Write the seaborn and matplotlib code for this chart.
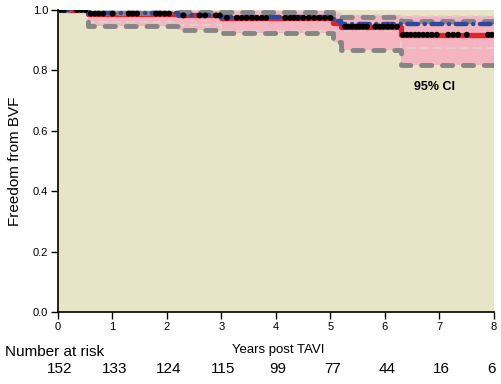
import numpy as np
import matplotlib
matplotlib.use("Agg")
import matplotlib.pyplot as plt
import seaborn as sns

# step times (years) and survival estimates
times = [0.0, 0.55, 2.2, 3.0, 5.05, 5.2, 6.3, 8.0]
km_est = [1.0, 0.988, 0.982, 0.974, 0.958, 0.945, 0.918, 0.918]
ci_upper = [1.0, 0.990, 0.995, 0.994, 0.985, 0.978, 0.965, 0.965]
ci_lower = [1.0, 0.947, 0.934, 0.924, 0.895, 0.868, 0.818, 0.818]
alt_est = [1.0, 0.990, 0.985, 0.977, 0.962, 0.953, 0.953, 0.953]
alt_upper = [1.0, 0.998, 0.998, 0.996, 0.990, 0.985, 0.981, 0.981]
alt_lower = [1.0, 0.960, 0.950, 0.930, 0.930, 0.930, 0.875, 0.875]

# censoring marks (years)
censored = [0.04, 0.11, 0.35, 0.42, 0.5, 0.6, 0.68, 0.75, 0.83, 1.0, 1.3, 1.37, 1.45,
            1.8, 1.87, 1.96, 2.04, 2.3, 2.6, 2.7, 2.9, 2.97, 3.1, 3.28, 3.37, 3.46,
            3.56, 3.65, 3.74, 3.82, 4.17, 4.26, 4.33, 4.4, 4.5, 4.6, 4.7, 4.8, 4.9,
            5.0, 5.27, 5.33, 5.4, 5.47, 5.53, 5.6, 5.67, 5.82, 5.9, 5.97, 6.05,
            6.13, 6.22, 6.33, 6.4, 6.47, 6.55, 6.62, 6.7, 6.78, 6.86, 6.95, 7.16,
            7.25, 7.34, 7.5, 7.89, 7.96]

risk_years = [0, 1, 2, 3, 4, 5, 6, 7, 8]
at_risk = [152, 133, 124, 115, 99, 77, 44, 16, 6]

sns.set_style("ticks")
plt.rcParams['font.family'] = ['Liberation Sans', 'DejaVu Sans']
plt.rcParams['text.color'] = 'black'
plt.rcParams['axes.labelcolor'] = 'black'
plt.rcParams['xtick.color'] = 'black'
plt.rcParams['ytick.color'] = 'black'
plt.rcParams['axes.edgecolor'] = 'black'

fig = plt.figure(figsize=(5.02, 3.84), dpi=100)
ax = fig.add_axes([58 / 502, 1 - 312 / 384, 436 / 502, 302 / 384])
ax.set_facecolor("#E8E4C8")

ax.fill_between(times, ci_lower, alt_upper, step="post", color="#F4B5C0", lw=0, zorder=1)

# light CI of the alternative estimate
for arr in (alt_upper, alt_lower):
    sns.lineplot(x=times, y=arr, drawstyle="steps-post", estimator=None, sort=False,
                 color="#DCD4D0", lw=1.2, linestyle=(0, (5, 3)), ax=ax, zorder=2)

sns.lineplot(x=times, y=km_est, drawstyle="steps-post", estimator=None, sort=False,
             color="#E8202A", lw=3.8, ax=ax, zorder=3)

for arr in (ci_upper, ci_lower):
    ax.plot(times, arr, drawstyle="steps-post", color="#858585", lw=3.5,
            linestyle=(0, (2.1, 2.2)), dash_capstyle="round", zorder=4)

ax.plot(times, alt_est, drawstyle="steps-post", color="#2B4A9E", lw=3.2,
        linestyle=(0, (2.4, 1.5, 0.05, 1.5)), dash_capstyle="round", zorder=4)

# censor marks sit on the KM step function
idx = np.searchsorted(times, censored, side="right") - 1
cens_y = np.array(km_est)[idx]
sns.scatterplot(x=censored, y=cens_y, color="black", s=18, edgecolor="none", ax=ax, zorder=5)

ax.set_xlim(0, 8)
ax.set_ylim(0, 1.0)
ax.set_xticks(risk_years)
ax.set_yticks(np.arange(0, 1.01, 0.2))
ax.set_yticklabels([f"{v:.1f}" for v in np.arange(0, 1.01, 0.2)])
ax.tick_params(labelsize=8, length=5, width=1, direction="out", pad=2)
for s in ("top", "right"):
    ax.spines[s].set_visible(False)
ax.set_xlabel("Years post TAVI", fontsize=9.5)
ax.xaxis.set_label_coords(220 / 436, -32 / 302)
ax.set_ylabel("Freedom from BVF", fontsize=11)
ax.yaxis.set_label_coords(-36 / 436, 0.5)
for sp in ("left", "bottom"):
    ax.spines[sp].set_linewidth(1.2)

ax.text(6.9, 0.745, "95% CI", fontsize=9, fontweight="bold", ha="center", va="center")

fig.text(5 / 502, 1 - 352 / 384, "Number at risk", fontsize=11, ha="left", va="center")
for yr, n in zip(risk_years, at_risk):
    xf = (60 + yr * 54.5) / 502
    fig.text(xf, 1 - 369 / 384, str(n), fontsize=11,
             ha="center" if yr < 8 else "right", va="center")

fig.savefig("out.png", dpi=100, facecolor="white")
